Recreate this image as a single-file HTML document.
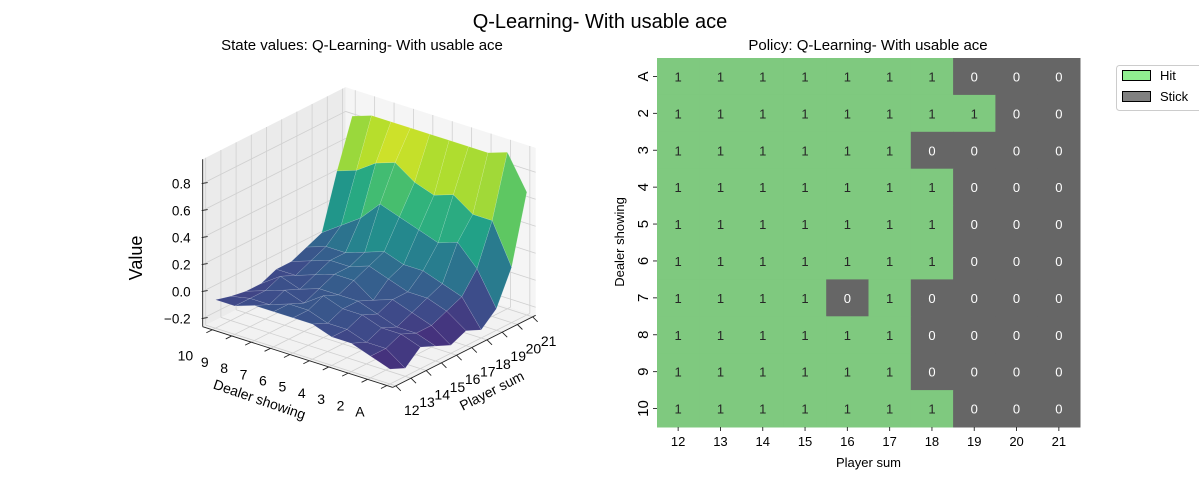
<!DOCTYPE html>
<html><head><meta charset="utf-8"><style>
html,body{margin:0;padding:0;background:#fff;}
svg{display:block;font-family:"Liberation Sans","DejaVu Sans",sans-serif;}
</style></head><body>
<svg id="fig" width="1199" height="480" viewBox="0 0 1199 480">
<text x="600" y="28" font-size="20" text-anchor="middle">Q-Learning- With usable ace</text>
<text x="362" y="50" font-size="15" text-anchor="middle">State values: Q-Learning- With usable ace</text>
<text x="868" y="50" font-size="15" text-anchor="middle">Policy: Q-Learning- With usable ace</text>
<g id="s3d"></g>
<g id="hm"></g>
<g>
<rect x="1116.5" y="65.5" width="90" height="45" rx="3" fill="#fff" stroke="#ccc"/>
<rect x="1122.5" y="70.5" width="28" height="10" fill="#90ee90" stroke="#000"/>
<text x="1160" y="80" font-size="13">Hit</text>
<rect x="1122.5" y="91.5" width="28" height="10" fill="#808080" stroke="#000"/>
<text x="1160" y="101" font-size="13">Stick</text>
</g>
</svg>
<script>
const playerSums=["12","13","14","15","16","17","18","19","20","21"];
const dealerCards=["A","2","3","4","5","6","7","8","9","10"];
const zTicks=[-0.2,0,0.2,0.4,0.6,0.8];
const valA=[-0.15,-0.2,-0.1,-0.15,-0.2,-0.15,-0.2,-0.1,0.15,0.65];
const val2=[-0.1,-0.1,-0.05,-0.1,-0.1,-0.05,0.0,0.15,0.45,0.9];
const val3=[-0.05,-0.1,-0.05,-0.1,-0.05,0.0,0.05,0.3,0.45,0.85];
const val4=[-0.05,-0.05,0.0,-0.05,0.0,0.0,0.1,0.25,0.55,0.85];
const val5=[0.0,-0.05,0.0,0.0,-0.05,0.05,0.1,0.3,0.5,0.85];
const val6=[0.0,0.0,0.05,0.0,0.05,0.1,0.15,0.35,0.55,0.85];
const val7=[0.0,0.0,-0.05,0.0,0.05,0.05,0.1,0.4,0.65,0.85];
const val8=[0.0,-0.05,0.0,-0.05,0.0,0.05,0.05,0.25,0.6,0.85];
const val9=[-0.05,-0.05,-0.05,0.0,-0.05,0.0,0.05,0.15,0.5,0.85];
const val10=[-0.05,-0.08,-0.1,-0.1,-0.05,-0.05,0.0,0.05,0.45,0.8];
const pA=[1,1,1,1,1,1,1,0,0,0];
const p2=[1,1,1,1,1,1,1,1,0,0];
const p3=[1,1,1,1,1,1,0,0,0,0];
const p4=[1,1,1,1,1,1,1,0,0,0];
const p5=[1,1,1,1,1,1,1,0,0,0];
const p6=[1,1,1,1,1,1,1,0,0,0];
const p7=[1,1,1,1,0,1,0,0,0,0];
const p8=[1,1,1,1,1,1,0,0,0,0];
const p9=[1,1,1,1,1,1,0,0,0,0];
const p10=[1,1,1,1,1,1,1,0,0,0];

const NS="http://www.w3.org/2000/svg";
function mk(tag,attrs,parent,txt){const e=document.createElementNS(NS,tag);for(const k in attrs)e.setAttribute(k,attrs[k]);if(txt!==undefined)e.textContent=txt;parent.appendChild(e);return e;}

const vals=[valA,val2,val3,val4,val5,val6,val7,val8,val9,val10];
const g3=document.getElementById('s3d');
const ZF=-0.26, ZT=0.98, ZS=135;
function P(i,j,z){return [390+i*15.2-j*19.4, 384-i*7.67-j*6.2-(z-ZF)*ZS];}
const I0=-0.2,I1=9.2,J0=-0.3,J1=9.5;
function poly(pts){return pts.map(p=>p[0].toFixed(1)+','+p[1].toFixed(1)).join(' ');}
let e;
e=mk('polygon',{points:poly([P(I0,J0,ZF),P(I1,J0,ZF),P(I1,J1,ZF),P(I0,J1,ZF)]),fill:'#f2f2f2',stroke:'none'},g3);

e=mk('polygon',{points:poly([P(I0,J1,ZF),P(I1,J1,ZF),P(I1,J1,ZT),P(I0,J1,ZT)]),fill:'#ebebeb',stroke:'none'},g3);

e=mk('polygon',{points:poly([P(I1,J0,ZF),P(I1,J1,ZF),P(I1,J1,ZT),P(I1,J0,ZT)]),fill:'#f5f5f5',stroke:'none'},g3);

function ln(a,b,st,w,name){const l=mk('line',{x1:a[0],y1:a[1],x2:b[0],y2:b[1],stroke:st,'stroke-width':w},g3);return l;}
for(let i=0;i<playerSums.length;i++){
  ln(P(i,J0,ZF),P(i,J1,ZF),'#d0d0d0',0.8,'floor-grid-player');
  ln(P(i,J1,ZF),P(i,J1,ZT),'#d0d0d0',0.8,'wall-grid-player');
}
for(let j=0;j<dealerCards.length;j++){
  ln(P(I0,j,ZF),P(I1,j,ZF),'#d0d0d0',0.8,'floor-grid-dealer');
  ln(P(I1,j,ZF),P(I1,j,ZT),'#d0d0d0',0.8,'wall-grid-dealer');
}
for(const z of zTicks){
  ln(P(I0,J1,z),P(I1,J1,z),'#d0d0d0',0.8,'wall-grid-z');
  ln(P(I1,J1,z),P(I1,J0,z),'#d0d0d0',0.8,'wall-grid-z');
}
ln(P(I0,J0,ZF),P(I1,J0,ZF),'#222',0.9,'player-axis-line');
ln(P(I0,J0,ZF),P(I0,J1,ZF),'#222',0.9,'dealer-axis-line');
ln(P(I0,J1,ZF),P(I0,J1,ZT),'#222',0.9,'z-axis-line');
for(const z of zTicks){
  const p=P(I0,J1,z);
  ln([p[0]-1,p[1]],[p[0]+5,p[1]-1],'#222',0.9,'z-tick');
  const t=mk('text',{x:p[0]-12,y:p[1]+5,'font-size':13.5,'text-anchor':'end'},g3,(z<0?'\u2212':'')+Math.abs(z).toFixed(1));
  
}
for(let i=0;i<playerSums.length;i++){
  const p=P(i,J0,ZF);
  ln(p,[p[0]+5,p[1]+5],'#222',0.9,'player-tick');
  const t=mk('text',{x:p[0]+16,y:p[1]+29,'font-size':14,'text-anchor':'middle'},g3,playerSums[i]);
  
}
for(let j=0;j<dealerCards.length;j++){
  const p=P(I0,j,ZF);
  ln(p,[p[0]-6,p[1]+3],'#222',0.9,'dealer-tick');
  const t=mk('text',{x:p[0]-27,y:p[1]+31,'font-size':14,'text-anchor':'middle'},g3,dealerCards[j]);
  
}
e=mk('text',{x:0,y:0,'font-size':14,'text-anchor':'middle',transform:'translate(258,404) rotate(19)'},g3,'Dealer showing');

e=mk('text',{x:0,y:0,'font-size':14,'text-anchor':'middle',transform:'translate(494,395) rotate(-27)'},g3,'Player sum');

e=mk('text',{x:0,y:0,'font-size':18,'text-anchor':'middle',transform:'translate(142,258) rotate(-90)'},g3,'Value');

const vir=[[68,1,84],[72,40,120],[62,74,137],[49,104,142],[38,130,142],[31,158,137],[53,183,121],[109,205,89],[180,222,44],[253,231,37]];
function viridis(t){t=Math.max(0,Math.min(1,t))*(vir.length-1);const k=Math.min(vir.length-2,Math.floor(t));const f=t-k;const a=vir[k],b=vir[k+1];return 'rgb('+a.map((v,n)=>Math.round(v+(b[n]-v)*f)).join(',')+')';}
const CMIN=-0.3, CMAX=0.82;
const quads=[];
for(let j=0;j<9;j++)for(let i=0;i<9;i++)quads.push([i,j]);
quads.sort((a,b)=>(b[0]+b[1])-(a[0]+a[1]));
for(const [i,j] of quads){
  const z00=vals[j][i],z10=vals[j][i+1],z11=vals[j+1][i+1],z01=vals[j+1][i];
  const avg=(z00+z10+z11+z01)/4;
  const q=mk('polygon',{points:poly([P(i,j,z00),P(i+1,j,z10),P(i+1,j+1,z11),P(i,j+1,z01)]),fill:viridis((avg-CMIN)/(CMAX-CMIN)),stroke:'rgba(255,255,255,0.25)','stroke-width':0.5,'stroke-linejoin':'round'},g3);
  
  
}

const pol=[pA,p2,p3,p4,p5,p6,p7,p8,p9,p10];
const hm=document.getElementById('hm');
const X0=657,X1=1080,Y0=58,Y1=427;
const cw=(X1-X0)/playerSums.length,ch=(Y1-Y0)/dealerCards.length;
function xs(c){return X0+c*cw;} function ys(r){return Y0+r*ch;}
for(let r=0;r<dealerCards.length;r++){
  for(let c=0;c<playerSums.length;c++){
    const v=pol[r][c];
    const rc=mk('rect',{x:xs(c),y:ys(r),width:cw+0.5,height:ch+0.5,fill:v?'#7fc97f':'#666666'},hm);
    
    
    const t=mk('text',{x:xs(c)+cw/2,y:ys(r)+ch/2+5,'font-size':13,'text-anchor':'middle',fill:v?'#262626':'#ffffff'},hm,String(v));
    
    
  }
}
for(let c=0;c<playerSums.length;c++){
  const x=xs(c)+cw/2;
  const tk=mk('line',{x1:x,y1:Y1,x2:x,y2:Y1+4,stroke:'#222','stroke-width':0.9},hm);
  
  const t=mk('text',{x:x,y:Y1+19,'font-size':13,'text-anchor':'middle'},hm,playerSums[c]);
  
}
for(let r=0;r<dealerCards.length;r++){
  const y=ys(r)+ch/2;
  const tk=mk('line',{x1:X0-4,y1:y,x2:X0,y2:y,stroke:'#222','stroke-width':0.9},hm);
  
  const t=mk('text',{x:0,y:0,'font-size':15,'text-anchor':'middle',transform:'translate('+(X0-9)+','+y+') rotate(-90)'},hm,dealerCards[r]);
  
}
e=mk('text',{x:(X0+X1)/2,y:467,'font-size':13,'text-anchor':'middle'},hm,'Player sum');

e=mk('text',{x:0,y:0,'font-size':13,'text-anchor':'middle',transform:'translate(624,242) rotate(-90)'},hm,'Dealer showing');

</script>
</body></html>
